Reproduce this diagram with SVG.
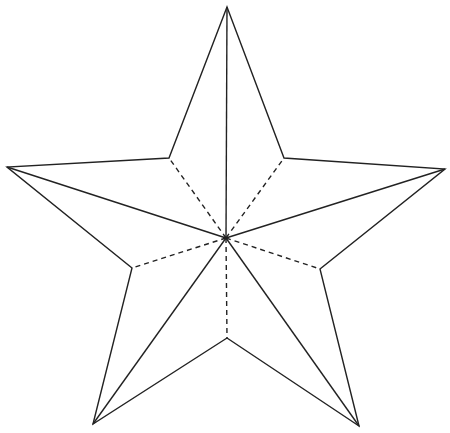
<svg xmlns="http://www.w3.org/2000/svg" width="450" height="433" viewBox="0 0 450 433">
<style>
.s{fill:none;stroke:#222;stroke-width:1.4;stroke-linejoin:miter}
.d{fill:none;stroke:#222;stroke-width:1.4;stroke-dasharray:5 4}
</style>
<rect width="450" height="433" fill="#fff"/>
<g id="star">
<polygon class="s" points="227,7 284,158 445,169 320,269 359,426 227,338 93,424 132,268 7,167 169,158"/>
</g>
<g id="connectors">
<line class="s" x1="226" y1="238" x2="227" y2="7"/>
<line class="s" x1="226" y1="238" x2="445" y2="169"/>
<line class="s" x1="226" y1="238" x2="359" y2="426"/>
<line class="s" x1="226" y1="238" x2="93" y2="424"/>
<line class="s" x1="226" y1="238" x2="7" y2="167"/>
<line class="d" x1="226" y1="238" x2="169" y2="158"/>
<line class="d" x1="226" y1="238" x2="284" y2="158"/>
<line class="d" x1="226" y1="238" x2="320" y2="269"/>
<line class="d" x1="226" y1="238" x2="227" y2="338"/>
<line class="d" x1="226" y1="238" x2="132" y2="268"/>
</g>
</svg>
